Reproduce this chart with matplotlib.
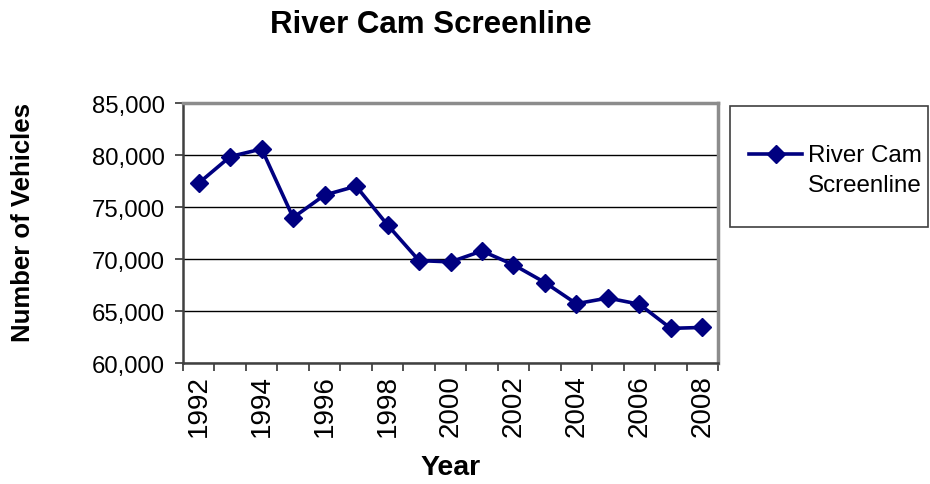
import matplotlib
matplotlib.use("Agg")
import matplotlib.pyplot as plt
from matplotlib.patches import Rectangle
from matplotlib.ticker import FuncFormatter, FixedLocator
from matplotlib.legend_handler import HandlerLine2D

plt.rcParams['font.family'] = ['Liberation Sans', 'DejaVu Sans']

years = [str(y) for y in range(1992, 2009)]
vehicles = [77300, 79850, 80580, 73980, 76150, 77000, 73270, 69850, 69720,
            70770, 69450, 67740, 65700, 66250, 65650, 63330, 63420]
series_name = "River Cam\nScreenline"
title = "River Cam Screenline"
xlabel = "Year"
ylabel = "Number of Vehicles"
yticks = [60000, 65000, 70000, 75000, 80000, 85000]

W, H = 930, 485
fig = plt.figure(figsize=(W / 100, H / 100), dpi=100)
ax = fig.add_axes([183 / W, 1 - 364 / H, (718 - 183) / W, (364 - 104) / H])

navy = '#000080'
x = list(range(len(years)))
line, = ax.plot(x, vehicles, color=navy, lw=2.6, marker='D', ms=9,
                markerfacecolor=navy, markeredgecolor=navy, label=series_name,
                zorder=3, clip_on=False)

ax.set_xlim(-0.5, len(years) - 0.5)
ax.set_ylim(yticks[0], yticks[-1])
ax.set_yticks(yticks)
ax.yaxis.set_major_formatter(FuncFormatter(lambda v, p: f"{int(v):,}"))
ax.grid(axis='y', color='black', lw=1)
ax.set_axisbelow(True)

# category boundary ticks (major), labels on every other category (minor)
ax.xaxis.set_major_locator(FixedLocator([i - 0.5 for i in range(len(years) + 1)]))
ax.xaxis.set_major_formatter(FuncFormatter(lambda v, p: ""))
ax.xaxis.set_minor_locator(FixedLocator(x[::2]))
ax.set_xticklabels(years[::2], minor=True, rotation=90, fontsize=20)
ax.tick_params(axis='x', which='minor', length=0, pad=8)
ax.tick_params(axis='x', which='major', length=6, width=1.2, direction='out', color='#333333')
ax.tick_params(axis='y', length=6, width=1.2, direction='out', labelsize=17.2, pad=7, color='#333333')

for s in ['left', 'bottom']:
    ax.spines[s].set_color('#404040')
    ax.spines[s].set_linewidth(1.8)
for s in ['top', 'right']:
    ax.spines[s].set_color('#8c8c8c')
    ax.spines[s].set_linewidth(2.5)

fig.text(431 / W, 1 - 25 / H, title, ha='center', va='center',
         fontsize=22.5, fontweight='bold')
fig.text(451 / W, 1 - 468 / H, xlabel, ha='center', va='center',
         fontsize=20.5, fontweight='bold')
fig.text(23 / W, 1 - 223 / H, ylabel, ha='center', va='center',
         rotation=90, fontsize=18.5, fontweight='bold')


class ShiftedHandler(HandlerLine2D):
    dy = 12

    def create_artists(self, legend, orig_handle, xdescent, ydescent, width,
                       height, fontsize, trans):
        artists = super().create_artists(legend, orig_handle, xdescent, ydescent,
                                         width, height, fontsize, trans)
        for a in artists:
            a.set_ydata([v + self.dy for v in a.get_ydata()])
        return artists


# legend box
fig.patches.append(Rectangle((730 / W, 1 - 228 / H), (928 - 730) / W, (228 - 107) / H,
                             transform=fig.transFigure, fill=False,
                             edgecolor='#404040', lw=1.2))
leg = fig.legend(handles=[line], loc='upper left',
                 bbox_to_anchor=(749 / W, 1 - 145 / H), frameon=False,
                 fontsize=17.4, handlelength=2.2, handletextpad=0.25,
                 borderpad=0, borderaxespad=0, labelspacing=0.3,
                 handler_map={line: ShiftedHandler()})
for t in leg.get_texts():
    t.set_linespacing(1.5)

fig.savefig("out.png", dpi=100)
